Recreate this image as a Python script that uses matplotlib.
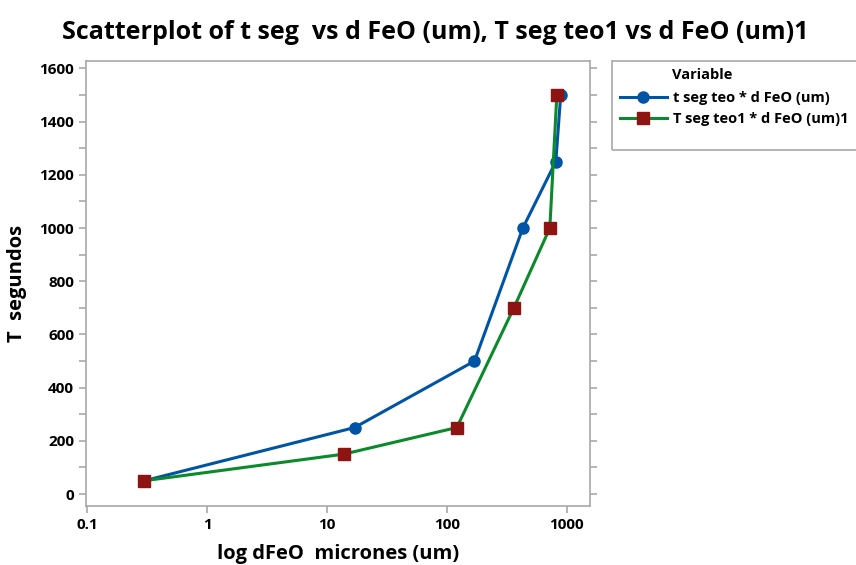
import matplotlib
matplotlib.use("Agg")
import matplotlib.pyplot as plt
from matplotlib.patches import Rectangle
from matplotlib.ticker import FixedLocator, MultipleLocator, NullFormatter

plt.rcParams["font.family"] = ["Open Sans", "DejaVu Sans"]

# datos
d_feo = [0.3, 17, 170, 430, 810, 890]
t_seg = [50, 250, 500, 1000, 1250, 1500]
d_feo1 = [0.3, 13.8, 121, 362, 722, 826]
t_seg1 = [50, 150, 250, 700, 1000, 1500]

x_ticks = [0.1, 1, 10, 100, 1000]
x_tick_labels = ["0.1", "1", "10", "100", "1000"]
y_ticks = [0, 200, 400, 600, 800, 1000, 1200, 1400, 1600]

GRIS = "#a8a8a8"
AZUL = "#0054a6"
VERDE = "#0a8a2a"
ROJO = "#8e1414"

fig = plt.figure(figsize=(8.56, 5.65), dpi=100)
ax = fig.add_axes([0.1005, 0.1044, 0.5885, 0.7876])

ax.plot(d_feo, t_seg, color=AZUL, linewidth=2.2, marker="o", markersize=8,
        markerfacecolor=AZUL, markeredgecolor=AZUL,
        label="t seg teo * d FeO (um)")
ax.plot(d_feo1, t_seg1, color=VERDE, linewidth=2.2, marker="s", markersize=8,
        markerfacecolor=ROJO, markeredgecolor=ROJO,
        label="T seg teo1 * d FeO (um)1")

ax.set_xscale("log")
ax.set_xlim(0.098, 1555)
ax.set_ylim(-45, 1628)
ax.xaxis.set_major_locator(FixedLocator(x_ticks))
ax.set_xticklabels(x_tick_labels)
ax.xaxis.set_minor_locator(FixedLocator([]))
ax.xaxis.set_minor_formatter(NullFormatter())
ax.set_yticks(y_ticks)
ax.yaxis.set_minor_locator(MultipleLocator(100))

for s in ax.spines.values():
    s.set_color(GRIS)
    s.set_linewidth(1.2)

ax.tick_params(axis="both", which="both", color=GRIS, direction="out",
               labelsize=11, labelcolor="black")
ax.tick_params(axis="both", which="major", length=5, width=1.2)
ax.tick_params(axis="y", which="minor", length=5, width=1.2)
ax.tick_params(axis="y", which="both", right=True)
for lb in ax.get_xticklabels() + ax.get_yticklabels():
    lb.set_fontweight("bold")

ax.set_xlabel("log dFeO  micrones (um)", fontsize=14.5, fontweight="bold",
              labelpad=9)
ax.set_ylabel("T  segundos", fontsize=14.5, fontweight="bold", labelpad=9)

fig.suptitle("Scatterplot of t seg  vs d FeO (um), T seg teo1 vs d FeO (um)1",
             x=0.508, y=0.965, fontsize=18, fontweight="bold")

# marco de la leyenda (se sale por la derecha como en el original)
fig.patches.append(Rectangle((0.715, 0.7345), 0.3, 0.1575,
                             transform=fig.transFigure, fill=False,
                             edgecolor=GRIS, linewidth=1.2))
fig.text(0.785, 0.867, "Variable", fontsize=10.5, fontweight="bold",
         ha="left", va="center")

leg = fig.legend(loc="upper left", bbox_to_anchor=(0.7125, 0.857),
                 fontsize=10.5, frameon=False, borderpad=0.2,
                 handlelength=3.2, labelspacing=0.5, handletextpad=0.45)
for t in leg.get_texts():
    t.set_fontweight("bold")

fig.savefig("out.png", dpi=100)
